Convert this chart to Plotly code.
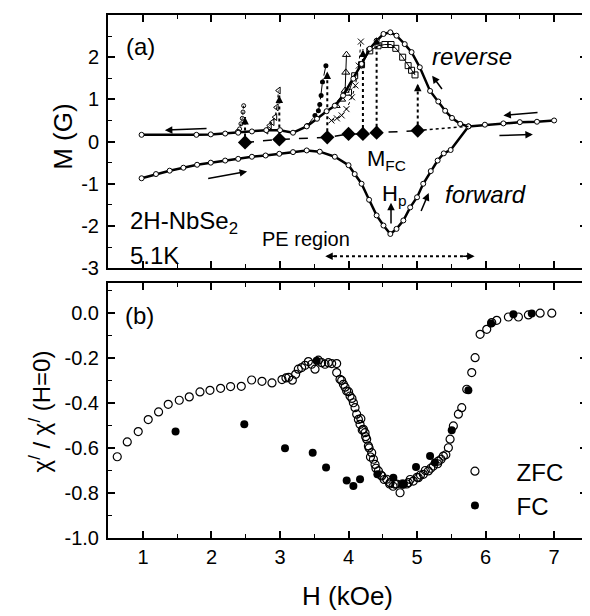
import plotly.graph_objects as go

FONT = "Liberation Sans, Arial, Helvetica, sans-serif"

# ---------------- panel (a) data ----------------
rev_H = [7.0, 6.75, 6.5, 6.26, 5.99, 5.75, 5.63, 5.51, 5.41, 5.31, 5.19, 5.04, 4.92, 4.82, 4.7, 4.61,
         4.51, 4.41, 4.31, 4.19, 4.07, 3.92, 3.8, 3.68, 3.54, 3.39, 3.19, 3.0, 2.8, 2.59, 2.39, 2.2,
         1.99, 1.78, 0.98]
rev_M = [0.5, 0.47, 0.46, 0.43, 0.40, 0.36, 0.42, 0.56, 0.73, 0.95, 1.2, 1.76, 2.12, 2.31, 2.51, 2.59,
         2.55, 2.39, 2.2, 1.84, 1.49, 1.09, 0.85, 0.72, 0.54, 0.36, 0.21, 0.27, 0.27, 0.24, 0.21, 0.19,
         0.17, 0.16, 0.16]

fwd_H = [0.98, 1.19, 1.39, 1.59, 1.79, 1.99, 2.2, 2.39, 2.59, 2.79, 2.99, 3.19, 3.39, 3.58, 3.8, 4.0,
         4.09, 4.19, 4.3, 4.41, 4.51, 4.61, 4.7, 4.8, 4.9, 5.0, 5.09, 5.2, 5.3, 5.39, 5.49, 5.75]
fwd_M = [-0.87, -0.77, -0.69, -0.62, -0.55, -0.5, -0.45, -0.41, -0.36, -0.33, -0.29, -0.25, -0.21,
         -0.24, -0.36, -0.56, -0.77, -1.0, -1.38, -1.75, -1.99, -2.19, -2.07, -1.87, -1.56, -1.32,
         -1.0, -0.70, -0.45, -0.28, -0.2, 0.36]

mfc_H = [2.49, 2.99, 3.69, 4.0, 4.21, 4.41, 5.01]
mfc_M = [-0.02, 0.05, 0.1, 0.18, 0.18, 0.21, 0.26]
mfc_end_H = [5.01, 5.75]
mfc_end_M = [0.26, 0.36]

spike_H = [2.49, 2.99, 3.69, 4.21, 4.41, 5.01]
spike_base = [-0.02, 0.05, 0.1, 0.18, 0.21, 0.26]
spike_top = [0.58, 1.09, 1.66, 2.18, 2.47, 1.37]

loopA_H = [2.38, 2.41, 2.43, 2.45, 2.46, 2.47]
loopA_M = [0.24, 0.30, 0.42, 0.55, 0.70, 0.85]
loopB_H = [2.80, 2.85, 2.89, 2.93, 2.95, 2.98]
loopB_M = [0.26, 0.38, 0.46, 0.58, 0.81, 1.21]
loopC_H = [3.40, 3.51, 3.56, 3.58, 3.60, 3.62, 3.67]
loopC_M = [0.38, 0.62, 0.73, 0.88, 1.09, 1.41, 1.80]
loopD_H = [3.82, 3.90, 3.95, 3.96, 3.97]
loopD_M = [0.85, 1.00, 1.21, 1.64, 2.06]
loopE_H = [3.75, 3.83, 3.90, 3.97, 4.05, 4.10, 4.15, 4.18]
loopE_M = [0.50, 0.55, 0.62, 0.77, 1.05, 1.33, 1.80, 2.37]
loopF_H = [4.0, 4.09, 4.19, 4.31, 4.43, 4.53, 4.62, 4.69, 4.79, 4.87, 4.92, 4.97]
loopF_M = [1.17, 1.56, 1.82, 2.15, 2.27, 2.30, 2.30, 2.21, 2.00, 1.80, 1.69, 1.58]

# ---------------- panel (b) data ----------------
zfc_H = [0.625, 0.771, 0.931, 1.077, 1.228, 1.369, 1.530, 1.676, 1.832, 1.978, 2.133, 2.279, 2.435,
         2.586, 2.737, 2.883, 3.029, 3.087, 3.126, 3.180, 3.228, 3.267, 3.316, 3.365, 3.414, 3.462,
         3.511, 3.560, 3.608, 3.657, 3.706, 3.754, 3.827, 3.827, 3.876, 3.90, 3.925, 3.95, 3.973,
         4.0, 4.022, 4.05, 4.071, 4.095, 4.119, 4.144, 4.168, 4.18, 4.2, 4.217, 4.241, 4.25, 4.265,
         4.290, 4.30, 4.32, 4.338, 4.363, 4.387, 4.40, 4.436, 4.47, 4.484, 4.52, 4.557, 4.60, 4.606,
         4.65, 4.679, 4.70, 4.752, 4.78, 4.800, 4.85, 4.873, 4.90, 4.946, 5.0, 5.019, 5.05, 5.092,
         5.12, 5.165, 5.20, 5.238, 5.30, 5.311, 5.35, 5.384, 5.42, 5.457, 5.482, 5.530, 5.603, 5.652,
         5.725, 5.798, 5.847, 5.920, 6.017, 6.090, 6.163, 6.333, 6.479, 6.625, 6.796, 6.966]
zfc_X = [-0.639, -0.573, -0.527, -0.474, -0.440, -0.406, -0.388, -0.373, -0.351, -0.344, -0.335,
         -0.327, -0.326, -0.298, -0.304, -0.311, -0.296, -0.289, -0.286, -0.299, -0.273, -0.250,
         -0.243, -0.233, -0.216, -0.228, -0.250, -0.210, -0.221, -0.228, -0.221, -0.225, -0.225,
         -0.265, -0.295, -0.30, -0.317, -0.33, -0.347, -0.35, -0.369, -0.38, -0.399, -0.421, -0.450,
         -0.473, -0.495, -0.47, -0.52, -0.517, -0.532, -0.55, -0.561, -0.591, -0.60, -0.64, -0.621,
         -0.650, -0.673, -0.69, -0.702, -0.72, -0.724, -0.74, -0.739, -0.76, -0.754, -0.77, -0.761,
         -0.76, -0.799, -0.76, -0.761, -0.76, -0.754, -0.74, -0.747, -0.73, -0.732, -0.72, -0.717,
         -0.70, -0.702, -0.69, -0.680, -0.67, -0.658, -0.65, -0.636, -0.63, -0.599, -0.561, -0.502,
         -0.450, -0.421, -0.339, -0.265, -0.199, -0.095, -0.073, -0.043, -0.033, -0.018, -0.018,
         -0.009, -0.001, -0.001]

fc_H = [1.476, 2.479, 3.073, 3.477, 3.535, 3.672, 3.973, 4.071, 4.168, 4.421, 4.654, 4.800, 4.985,
        5.190, 5.26, 5.506, 5.749, 6.080, 6.406, 6.674]
fc_X = [-0.527, -0.495, -0.601, -0.621, -0.213, -0.687, -0.744, -0.769, -0.739, -0.717, -0.732,
        -0.761, -0.684, -0.636, -0.665, -0.521, -0.344, -0.047, -0.006, -0.003]

x_ticks = [1, 2, 3, 4, 5, 6, 7]
x_ticktext = ["1", "2", "3", "4", "5", "6", "7"]
ya_ticks = [3, 2, 1, 0, -1, -2, -3]
ya_ticktext = ["3", "2", "1", "0", "-1", "-2", "-3"]
yb_ticks = [0.0, -0.2, -0.4, -0.6, -0.8, -1.0]
yb_ticktext = ["0.0", "-0.2", "-0.4", "-0.6", "-0.8", "-1.0"]

fig = go.Figure()

def add(x, y, **kw):
    kw.setdefault("showlegend", False)
    kw.setdefault("xaxis", "x")
    kw.setdefault("yaxis", "y")
    fig.add_trace(go.Scatter(x=x, y=y, **kw))

open_small = dict(symbol="circle", size=5, color="white", line=dict(color="black", width=1))

# minor loops (thin)
add(loopA_H, loopA_M, mode="lines+markers", line=dict(color="black", width=1, dash="dot"),
    marker=dict(symbol="circle-open", size=4, color="black"))
add(loopB_H, loopB_M, mode="lines+markers", line=dict(color="black", width=1, dash="dot"),
    marker=dict(symbol="triangle-left-open", size=6, color="black"))
add(loopC_H, loopC_M, mode="lines+markers", line=dict(color="black", width=1, dash="dashdot"),
    marker=dict(symbol="circle", size=5, color="black"))
add(loopD_H, loopD_M, mode="lines+markers", line=dict(color="black", width=1),
    marker=dict(symbol="triangle-up-open", size=7, color="black"))
add(loopE_H, loopE_M, mode="lines+markers", line=dict(color="black", width=1, dash="dot"),
    marker=dict(symbol="x-thin-open", size=6, color="black", line=dict(width=1, color="black")))
add(loopF_H, loopF_M, mode="lines+markers", line=dict(color="black", width=1),
    marker=dict(symbol="square-open", size=6, color="black"))

# vertical dotted lines from M_FC up to spikes
vx, vy = [], []
for h, b, t in zip(spike_H, spike_base, spike_top):
    vx += [h, h, None]
    vy += [b, t, None]
add(vx, vy, mode="lines", line=dict(color="black", width=2, dash="dot"))

# main loop
add(rev_H, rev_M, mode="lines+markers", line=dict(color="black", width=2.5), marker=open_small)
add(fwd_H, fwd_M, mode="lines+markers", line=dict(color="black", width=2.5), marker=open_small)

# M_FC line
add(mfc_end_H, mfc_end_M, mode="lines", line=dict(color="black", width=1.5, dash="dot"))
add(mfc_H, mfc_M, mode="lines+markers", line=dict(color="black", width=1.5, dash="dash"),
    marker=dict(symbol="diamond", size=11, color="black"))

# panel (b)
NB = "\u00a0"
fig.add_trace(go.Scatter(x=zfc_H, y=zfc_X, mode="markers", name=NB + "ZFC", xaxis="x2", yaxis="y2",
                         marker=dict(symbol="circle-open", size=8, color="black", line=dict(width=1.2))))
fig.add_trace(go.Scatter(x=fc_H, y=fc_X, mode="markers", name=NB + "FC", xaxis="x2", yaxis="y2",
                         marker=dict(symbol="circle", size=8, color="black")))

def axis(**kw):
    d = dict(showline=True, linecolor="black", linewidth=2, mirror="ticks", ticks="inside",
             ticklen=7, tickwidth=1.5, tickcolor="black", showgrid=False, zeroline=False,
             tickfont=dict(family=FONT, size=20, color="black"), tickmode="array",
             ticklabelstandoff=3, automargin=False)
    d.update(kw)
    return d

xr = [0.49, 7.48]
minor_x = dict(ticks="inside", ticklen=4, tickwidth=1.2, tickcolor="black", dtick=0.5, tick0=0.5)

fig.update_layout(
    template="none",
    width=582, height=608,
    margin=dict(l=100, r=3, t=7, b=78, autoexpand=False),
    paper_bgcolor="white", plot_bgcolor="white",
    font=dict(family=FONT, color="black"),
    xaxis=axis(range=xr, domain=[0, 1], anchor="y", tickvals=x_ticks, ticktext=x_ticktext,
               showticklabels=False, minor=minor_x),
    yaxis=axis(range=[-3, 3], domain=[0.516, 1], anchor="x", tickvals=ya_ticks, ticktext=ya_ticktext,
               minor=dict(ticks="inside", ticklen=4, tickwidth=1.2, tickcolor="black", dtick=0.5, tick0=0.5)),
    xaxis2=axis(range=xr, domain=[0, 1], anchor="y2", tickvals=x_ticks, ticktext=x_ticktext,
                minor=minor_x, ticklabelstandoff=0),
    yaxis2=axis(range=[-1.0, 0.133], domain=[0, 0.4876], anchor="x2", tickvals=yb_ticks,
                ticktext=yb_ticktext,
                minor=dict(ticks="inside", ticklen=4, tickwidth=1.2, tickcolor="black", dtick=0.1, tick0=0.1)),
    legend=dict(x=0.693, y=0.17, xanchor="left", yanchor="top", bgcolor="rgba(0,0,0,0)",
                font=dict(family=FONT, size=24, color="black"), tracegroupgap=0,
                itemwidth=60),
)

ann = []
def text(x, y, t, size=24, xref="x", yref="y", **kw):
    a = dict(x=x, y=y, xref=xref, yref=yref, text=t, showarrow=False,
             xanchor="center", yanchor="middle",
             font=dict(family=FONT, size=size, color="black"))
    a.update(kw)
    ann.append(a)

def arrow(x0, y0, x1, y1, width=1.5, head=2, size=1.0):
    ann.append(dict(x=x1, y=y1, ax=x0, ay=y0, xref="x", yref="y", axref="x", ayref="y",
                    text="", showarrow=True, arrowhead=head, arrowsize=size, arrowwidth=width,
                    arrowcolor="black"))

text(0.97, 2.25, "(a)")
text(5.8, 2.02, "<i>reverse</i>")
text(6.0, -1.26, "<i>forward</i>")
text(4.56, -0.44, "M<sub>FC</sub>", size=22)
text(4.67, -1.27, "H<sub>p</sub>", size=22)
text(0.78, -1.93, "2H-NbSe<sub>2</sub>", xanchor="left")
text(0.78, -2.7, "5.1K", xanchor="left")
text(2.71, -2.3, "PE region", size=20, xanchor="left")
text(0.71, -0.01, "(b)", xref="x2", yref="y2", xanchor="left")

# axis titles
text(0.5, -0.11, "H (kOe)", size=26, xref="paper", yref="paper")
text(-0.094, 0.767, "M (G)", size=26, xref="paper", yref="paper", textangle=-90)
text(-0.143, 0.241, "χ<sup>/</sup> / χ<sup>/</sup> (H=0)", size=24, xref="paper", yref="paper",
     textangle=-90)

# direction arrows
arrow(1.95, 0.31, 1.32, 0.27)
arrow(1.93, -0.88, 2.52, -0.71)
arrow(6.78, 0.69, 6.26, 0.62)
arrow(6.18, 0.14, 6.69, 0.17)
arrow(5.38, 1.21, 5.22, 1.56)
arrow(5.05, -1.68, 5.17, -1.22)
arrow(4.62, -1.98, 4.62, -1.45)
# arrowheads on spikes
for h, t in zip(spike_H, spike_top):
    arrow(h, t - 0.2, h, t, width=1.5, head=2, size=1.0)
# arrow at start of M_FC line
arrow(2.6, -0.01, 2.40, -0.03)
# PE region dotted double arrow
fig.add_shape(type="line", x0=3.7, x1=5.8, y0=-2.72, y1=-2.72, xref="x", yref="y",
              line=dict(color="black", width=2, dash="dot"))
arrow(3.85, -2.72, 3.66, -2.72)
arrow(5.65, -2.72, 5.84, -2.72)

fig.update_layout(annotations=ann)
fig.write_html("out.html")
